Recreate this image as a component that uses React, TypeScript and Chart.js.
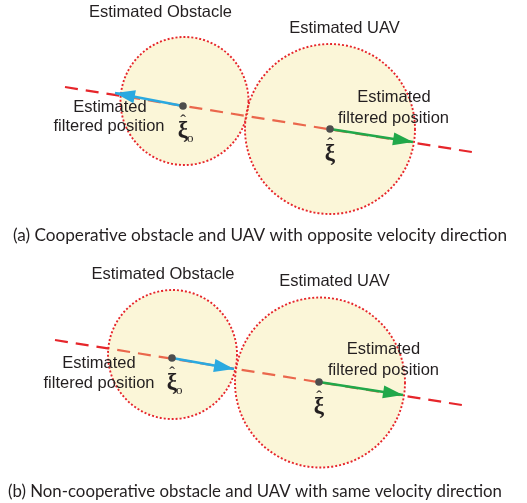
import React, { useEffect, useRef } from "react";
import { Chart, registerables } from "chart.js";

Chart.register(...registerables);

// ---- data (diagram coordinates, y grows downward) ----
const panelIds = ["a", "b"];
const trajectoryA = [{ x: 65, y: 87 }, { x: 478, y: 153 }];
const trajectoryB = [{ x: 55, y: 340 }, { x: 468, y: 406 }];
const obstacleRegions = [{ x: 184.5, y: 101, r: 64 }, { x: 172.5, y: 354.5, r: 64.5 }];
const uavRegions = [{ x: 330, y: 129, r: 85 }, { x: 320, y: 382.5, r: 85 }];
const obstaclePositions = [{ x: 183, y: 106 }, { x: 172, y: 358 }];
const uavPositions = [{ x: 330, y: 129 }, { x: 319, y: 382 }];
const obstacleVelocityTips = [{ x: 115, y: 93 }, { x: 234, y: 369 }];
const uavVelocityTips = [{ x: 413, y: 142 }, { x: 403, y: 395 }];
const regionLabels = ["Estimated Obstacle", "Estimated UAV"];
const positionLabel = ["Estimated", "filtered position"];
const captions = [
  "(a) Cooperative obstacle and UAV with opposite velocity direction",
  "(b) Non-cooperative obstacle and UAV with same velocity direction",
];

// ---- layout of texts (center x, baseline y) ----
const textLayout = [
  {
    obstacleTitle: [160.5, 17], uavTitle: [344.5, 33],
    leftLabel: [110, 112, 109, 131], rightLabel: [394, 102, 393.5, 122.5],
    caption: [13, 241, 494],
  },
  {
    obstacleTitle: [163, 279], uavTitle: [334.5, 286],
    leftLabel: [99, 368, 99, 388], rightLabel: [383.5, 354, 383.5, 375],
    caption: [8, 497, 494],
  },
];

const RED = "#E6262B";
const BLUE = "#2AA9E0";
const GREEN = "#21A84A";
const DOT = "#4D4D4D";
const INK = "#231F20";
const FILL = "rgba(242, 230, 140, 0.34)";

const arrowPlugin = {
  id: "arrowHeads",
  beforeDatasetDraw(chart: any, args: any) {
    const ds = chart.data.datasets[args.index];
    if (ds.dotted) chart.ctx.setLineDash([2, 2]);
  },
  afterDatasetDraw(chart: any, args: any) {
    const ctx = chart.ctx;
    const ds = chart.data.datasets[args.index];
    if (ds.dotted) ctx.setLineDash([]);
    if (!ds.arrow) return;
    const xs = chart.scales.x, ys = chart.scales.y;
    const p0 = ds.data[0], p1 = ds.data[ds.data.length - 1];
    const x0 = xs.getPixelForValue(p0.x), y0 = ys.getPixelForValue(p0.y);
    const x1 = xs.getPixelForValue(p1.x), y1 = ys.getPixelForValue(p1.y);
    const ang = Math.atan2(y1 - y0, x1 - x0);
    const len = 20, half = 6.5;
    ctx.save();
    ctx.translate(x1, y1);
    ctx.rotate(ang);
    ctx.beginPath();
    ctx.moveTo(0, 0);
    ctx.lineTo(-len, -half);
    ctx.lineTo(-len, half);
    ctx.closePath();
    ctx.fillStyle = ds.borderColor;
    ctx.fill();
    ctx.restore();
  },
};

function drawXi(ctx: any, px: number, py: number, sub: boolean) {
  ctx.save();
  ctx.fillStyle = INK;
  ctx.textAlign = "center";
  ctx.textBaseline = "alphabetic";
  ctx.font = "bold 23px 'Liberation Serif'";
  ctx.fillText("ξ", px, py + 31);
  ctx.font = "17px 'Liberation Serif'";
  ctx.fillText("ˆ", px, py + 20);
  if (sub) {
    ctx.textAlign = "left";
    ctx.font = "13px 'Liberation Serif'";
    ctx.fillText("o", px + 4, py + 36);
  }
  ctx.restore();
}

const textPlugin = {
  id: "diagramText",
  afterDraw(chart: any) {
    const ctx = chart.ctx;
    const xs = chart.scales.x, ys = chart.scales.y;
    const X = (v: number) => xs.getPixelForValue(v);
    const Y = (v: number) => ys.getPixelForValue(v);
    panelIds.forEach((_, i) => {
      const L = textLayout[i];
      ctx.save();
      ctx.fillStyle = INK;
      ctx.textAlign = "center";
      ctx.textBaseline = "alphabetic";
      ctx.font = "16.5px 'Liberation Sans', Arial, sans-serif";
      ctx.fillText(regionLabels[0], X(L.obstacleTitle[0]), Y(L.obstacleTitle[1]));
      ctx.fillText(regionLabels[1], X(L.uavTitle[0]), Y(L.uavTitle[1]));
      ctx.fillText(positionLabel[0], X(L.leftLabel[0]), Y(L.leftLabel[1]));
      ctx.fillText(positionLabel[1], X(L.leftLabel[2]), Y(L.leftLabel[3]));
      ctx.fillText(positionLabel[0], X(L.rightLabel[0]), Y(L.rightLabel[1]));
      ctx.fillText(positionLabel[1], X(L.rightLabel[2]), Y(L.rightLabel[3]));
      // caption fitted to width
      ctx.font = "17.5px Lato, 'Open Sans', sans-serif";
      ctx.textAlign = "left";
      const w = ctx.measureText(captions[i]).width;
      ctx.translate(X(L.caption[0]), Y(L.caption[1]));
      ctx.scale(L.caption[2] / w, 1);
      ctx.fillText(captions[i], 0, 0);
      ctx.restore();
      drawXi(ctx, X(obstaclePositions[i].x), Y(obstaclePositions[i].y), true);
      drawXi(ctx, X(uavPositions[i].x), Y(uavPositions[i].y), false);
    });
  },
};

export default function App() {
  const ref = useRef<HTMLCanvasElement | null>(null);
  useEffect(() => {
    if (!ref.current) return;
    const datasets: any[] = [];
    [trajectoryA, trajectoryB].forEach((t) =>
      datasets.push({
        type: "line", data: t, borderColor: RED, borderWidth: 2.2, borderDash: [13, 8],
        pointRadius: 0, showLine: true, fill: false, order: 5,
      })
    );
    datasets.push({
      type: "bubble", data: [...obstacleRegions, ...uavRegions], backgroundColor: FILL,
      borderColor: RED, borderWidth: 1.9, dotted: true, order: 4,
    });
    panelIds.forEach((_, i) => {
      datasets.push({
        type: "line", data: [obstaclePositions[i], obstacleVelocityTips[i]], borderColor: BLUE,
        borderWidth: 2.5, pointRadius: 0, showLine: true, fill: false, arrow: true, order: 3,
      });
      datasets.push({
        type: "line", data: [uavPositions[i], uavVelocityTips[i]], borderColor: GREEN,
        borderWidth: 2.5, pointRadius: 0, showLine: true, fill: false, arrow: true, order: 3,
      });
    });
    datasets.push({
      type: "scatter", data: [...obstaclePositions, ...uavPositions], backgroundColor: DOT,
      borderColor: DOT, borderWidth: 0, pointRadius: 3.8, order: 2,
    });
    const chart = new Chart(ref.current, {
      type: "scatter",
      data: { datasets },
      options: {
        animation: false,
        responsive: false,
        maintainAspectRatio: false,
        events: [],
        layout: { padding: 0, autoPadding: false },
        plugins: { legend: { display: false }, tooltip: { enabled: false } },
        scales: {
          x: { type: "linear", min: 0, max: 527, display: false },
          y: { type: "linear", min: 0, max: 503, reverse: true, display: false },
        },
      } as any,
      plugins: [arrowPlugin, textPlugin],
    });
    return () => chart.destroy();
  }, []);
  return (
    <div style={{ position: "fixed", left: 0, top: 0, width: 527, height: 503, background: "#fff" }}>
      <canvas ref={ref} width={527} height={503} style={{ display: "block" }} />
    </div>
  );
}
